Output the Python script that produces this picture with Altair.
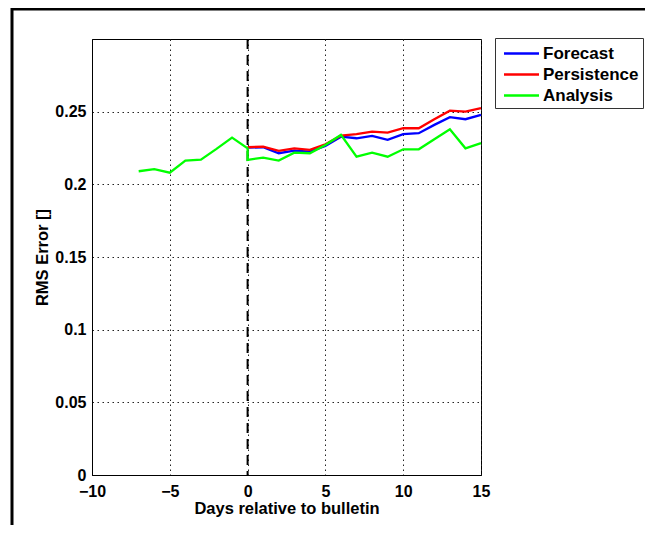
import altair as alt
import pandas as pd

# Days relative to bulletin
forecast_days = list(range(0, 16))
forecast_rms = [0.2252, 0.2255, 0.2214, 0.2232, 0.2225, 0.2264, 0.2328, 0.2317,
                0.2333, 0.2306, 0.2345, 0.2352, 0.2409, 0.2462, 0.2448, 0.2478]

persistence_days = list(range(0, 16))
persistence_rms = [0.2255, 0.2260, 0.2230, 0.2248, 0.2237, 0.2276, 0.2335, 0.2345,
                   0.2363, 0.2356, 0.2386, 0.2386, 0.2448, 0.2507, 0.2500, 0.2524]

# analysis jumps at day 0 (two points there)
analysis_days = [-7, -6, -5, -4, -3, -2, -1, 0, 0, 1, 2, 3, 4, 5, 6, 7, 8, 9, 10,
                 11, 12, 13, 14, 15]
analysis_rms = [0.2090, 0.2104, 0.2080, 0.2163, 0.2170, 0.2244, 0.2322, 0.2248,
                0.2168, 0.2184, 0.2163, 0.2218, 0.2214, 0.2271, 0.2340, 0.2190,
                0.2218, 0.2190, 0.2241, 0.2241, 0.2310, 0.2379, 0.2248, 0.2283]

series_names = ["Forecast", "Persistence", "Analysis"]
series_colors = ["#0000FF", "#FF0000", "#00FF00"]

x_ticks = [-10, -5, 0, 5, 10, 15]
y_ticks = [0, 0.05, 0.1, 0.15, 0.2, 0.25]

FONT = "Liberation Sans"

records = []
for name, days, vals in [("Forecast", forecast_days, forecast_rms),
                         ("Persistence", persistence_days, persistence_rms),
                         ("Analysis", analysis_days, analysis_rms)]:
    for i, (d, v) in enumerate(zip(days, vals)):
        records.append({"day": d, "rms": v, "series": name, "idx": i})
df = pd.DataFrame(records)

x_enc = alt.X("day:Q", title="Days relative to bulletin",
              scale=alt.Scale(domain=[-10, 15], nice=False),
              axis=alt.Axis(values=x_ticks, format="d", labelFlush=False,
                            labelPadding=8, titlePadding=1))
y_enc = alt.Y("rms:Q", title="RMS Error []",
              scale=alt.Scale(domain=[0, 0.3], nice=False),
              axis=alt.Axis(values=y_ticks, format="~g", labelFlush=False,
                            labelPadding=6, titlePadding=4))

# long horizontal stroke as legend symbol, keeps rows compact
lines = alt.Chart(df).mark_line(strokeWidth=2.3).encode(
    x=x_enc,
    y=y_enc,
    color=alt.Color("series:N",
                    scale=alt.Scale(domain=series_names, range=series_colors),
                    sort=series_names,
                    legend=alt.Legend(title=None, orient="none",
                                      legendX=403, legendY=-1,
                                      symbolType="M-1.75,0H1.75", symbolSize=400,
                                      symbolOffset=11, symbolStrokeWidth=2.3,
                                      labelFont=FONT, labelFontSize=17,
                                      labelFontWeight="bold", labelColor="black",
                                      labelOffset=10, rowPadding=1,
                                      padding=4, strokeColor="#333333",
                                      fillColor="white")),
    order=alt.Order("idx:Q"),
)

bulletin = alt.Chart(pd.DataFrame({"day": [0]})).mark_rule(
    color="black", strokeWidth=2, strokeDash=[10, 6]
).encode(x="day:Q")

# figure frame (top and left edges only, as cropped)
frame_top = alt.Chart(pd.DataFrame({"a": [0]})).mark_rule(
    color="black", strokeWidth=3
).encode(x=alt.value(-80), x2=alt.value(561), y=alt.value(-30))
frame_left = alt.Chart(pd.DataFrame({"a": [0]})).mark_rule(
    color="black", strokeWidth=3
).encode(x=alt.value(-80), y=alt.value(-31), y2=alt.value(520))

chart = alt.layer(bulletin, lines, frame_top, frame_left).properties(
    width=389,
    height=436,
    autosize=alt.AutoSizeParams(type="none"),
    padding={"left": 84, "top": 31, "right": 164, "bottom": 50},
    background="white",
).configure_view(
    stroke="black", strokeWidth=1
).configure_axis(
    labelFont=FONT, labelFontSize=16, labelFontWeight="bold", labelColor="black",
    titleFont=FONT, titleFontSize=16.5, titleFontWeight="bold", titleColor="black",
    domainColor="black", domainWidth=1,
    ticks=False,
    gridColor="#222222", gridDash=[1.5, 3.5], gridWidth=1, gridOpacity=1,
)

chart.save("out.html", embed_options={"renderer": "svg", "actions": False})
